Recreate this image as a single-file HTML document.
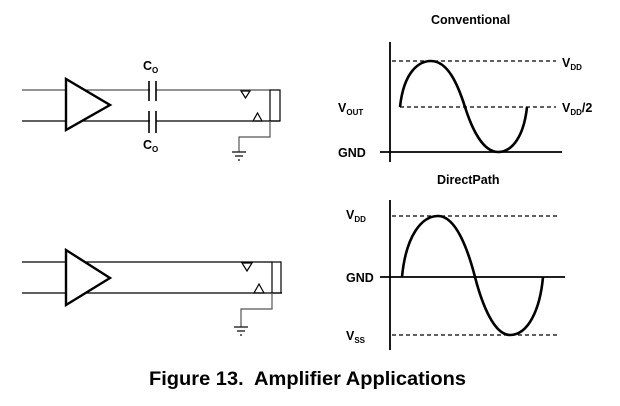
<html><body style="margin:0;background:#fff">
<svg width="620" height="406" xmlns="http://www.w3.org/2000/svg" font-family="Liberation Sans, sans-serif" font-weight="bold">
<g stroke="#000" fill="none" stroke-width="1.2">
<line x1="22" y1="90" x2="270" y2="90" stroke="#555"/>
<line x1="22" y1="121" x2="280" y2="121"/>
<rect x="150" y="82" width="6" height="20" fill="#fff" stroke="none"/>
<rect x="150" y="112" width="6" height="22" fill="#fff" stroke="none"/>
<line x1="149" y1="81" x2="149" y2="101" stroke-width="1.6"/><line x1="156" y1="81" x2="156" y2="101" stroke-width="1.6"/>
<line x1="149" y1="111" x2="149" y2="133" stroke-width="1.6"/><line x1="156" y1="111" x2="156" y2="133" stroke-width="1.6"/>
<polygon points="66,79 66,130 110,105" fill="#fff" stroke-width="2.4"/>
<polygon points="241,91 250,91 245.5,98"/>
<polygon points="253,121 262,121 257.5,113"/>
<rect x="270" y="90" width="10" height="31"/>
<polyline points="270,121 270,137 239,137 239,152" stroke="#555"/>
<line x1="232" y1="152" x2="246" y2="152"/><line x1="235" y1="156" x2="243" y2="156"/><line x1="238" y1="160" x2="240" y2="160"/>
<line x1="22" y1="262" x2="272" y2="262"/>
<line x1="22" y1="293" x2="282" y2="293"/>
<polygon points="66,250 66,305 110,278" fill="#fff" stroke-width="2.4"/>
<polygon points="242,263 252,263 247,271"/>
<polygon points="254,293 264,293 259,284"/>
<rect x="272" y="262" width="9" height="31"/>
<polyline points="272,293 272,309 241,309 241,327" stroke="#555"/>
<line x1="234" y1="327" x2="248" y2="327"/><line x1="237" y1="331" x2="245" y2="331"/><line x1="240" y1="335" x2="242" y2="335"/>
<line x1="390" y1="42" x2="390" y2="162" stroke-width="1.8"/>
<line x1="380" y1="152" x2="562" y2="152" stroke-width="1.8"/>
<line x1="392" y1="61" x2="556" y2="61" stroke-dasharray="4,3"/>
<line x1="400" y1="107" x2="556" y2="107" stroke-dasharray="4,3"/>
<path d="M400,107 C404,70 420,61 431,61 C448,61 458,85 465,107 C472,129 483,152 498,152 C513,152 524,135 527,107" stroke-width="2.6"/>
<line x1="390" y1="200" x2="390" y2="350" stroke-width="1.8"/>
<line x1="380" y1="277" x2="565" y2="277" stroke-width="1.8"/>
<line x1="392" y1="216" x2="558" y2="216" stroke-dasharray="4,3"/>
<line x1="392" y1="335" x2="558" y2="335" stroke-dasharray="4,3"/>
<path d="M402,277 C406,235 422,216 438,216 C456,216 468,250 475,277 C482,304 494,335 510,335 C528,335 540,310 543,277" stroke-width="2.6"/>
</g>
<g font-size="12.5" fill="#000">
<text x="143" y="70">C<tspan font-size="8" dy="3">O</tspan></text>
<text x="143" y="149">C<tspan font-size="8" dy="3">O</tspan></text>
<text x="431" y="24">Conventional</text>
<text x="562" y="67">V<tspan font-size="8" dy="3">DD</tspan></text>
<text x="562" y="112">V<tspan font-size="8" dy="3">DD</tspan><tspan dy="-3">/2</tspan></text>
<text x="338" y="112">V<tspan font-size="8" dy="3">OUT</tspan></text>
<text x="338" y="157">GND</text>
<text x="437" y="184">DirectPath</text>
<text x="346" y="219">V<tspan font-size="8" dy="3">DD</tspan></text>
<text x="346" y="282">GND</text>
<text x="346" y="340">V<tspan font-size="8" dy="3">SS</tspan></text>
<text x="149" y="385" font-size="19" textLength="317" lengthAdjust="spacingAndGlyphs" xml:space="preserve">Figure 13.  Amplifier Applications</text>
</g>
</svg>
</body></html>
